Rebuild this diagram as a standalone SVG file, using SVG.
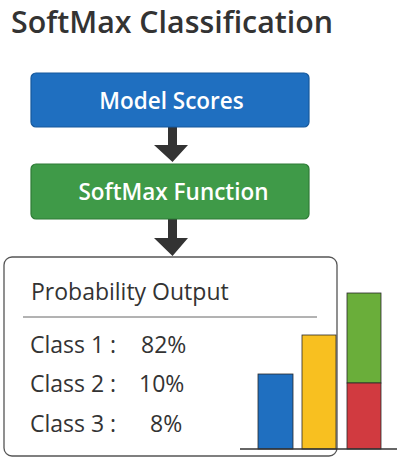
<svg xmlns="http://www.w3.org/2000/svg" width="397" height="459" viewBox="0 0 397 459">
<style>
.t{font-family:"Open Sans","Noto Sans","DejaVu Sans",sans-serif;fill:#333}
.w{font-family:"Open Sans","Noto Sans","DejaVu Sans",sans-serif;fill:#fff;font-weight:600;font-size:22.5px;text-anchor:middle}
.arr{fill:#333}
.bar{stroke:#2a2a2a;stroke-width:0.8}
</style>
<rect width="397" height="459" fill="#fff"/>
<text class="t" x="11" y="33" font-size="30" font-weight="600" textLength="322" lengthAdjust="spacingAndGlyphs">SoftMax Classification</text>
<g id="connectors">
<polygon class="arr" points="168,127 177,127 177,145 188,145 172.5,162 154,145 168,145"/>
<polygon class="arr" points="168,219 177,219 177,238 188,238 172.5,256 154,238 168,238"/>
</g>
<g id="model-scores">
<rect x="31" y="73" width="278" height="54" rx="5" fill="#1f6fc0" stroke="#17599c" stroke-width="1.2"/>
<text class="w" x="171.5" y="109">Model Scores</text>
</g>
<g id="softmax-function">
<rect x="31" y="164" width="278" height="55" rx="5" fill="#3f9a48" stroke="#2f7b37" stroke-width="1.2"/>
<text class="w" x="173.5" y="200">SoftMax Function</text>
</g>
<g id="probability-output">
<rect x="4" y="257" width="333" height="199" rx="8" fill="#fff" stroke="#555" stroke-width="1.3"/>
<text class="t" x="31" y="300" font-size="23">Probability Output</text>
<line x1="23" y1="317" x2="317" y2="317" stroke="#666" stroke-width="1"/>
<text class="t" x="30" y="353" font-size="23">Class 1 :</text>
<text class="t" x="141" y="353" font-size="23">82%</text>
<text class="t" x="30" y="392" font-size="23">Class 2 :</text>
<text class="t" x="139" y="392" font-size="23">10%</text>
<text class="t" x="30" y="432" font-size="23">Class 3 :</text>
<text class="t" x="150" y="432" font-size="23">8%</text>
</g>
<g id="chart">
<rect class="bar" x="258" y="374" width="35" height="75" fill="#1f6fc0"/>
<rect class="bar" x="302" y="335" width="34" height="114" fill="#f8c020"/>
<rect class="bar" x="347" y="293" width="34" height="90" fill="#6aae3a"/>
<rect class="bar" x="347" y="383" width="34" height="66" fill="#d13a40"/>
<line x1="240" y1="449" x2="397" y2="449" stroke="#333" stroke-width="1.3"/>
</g>
</svg>
